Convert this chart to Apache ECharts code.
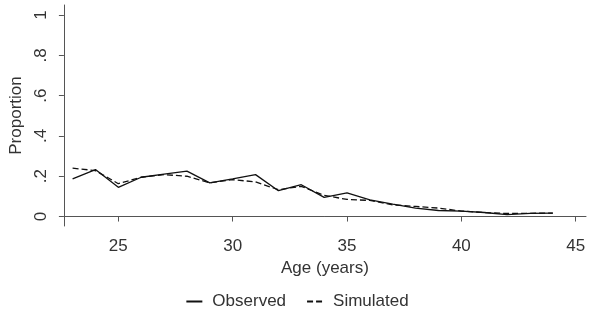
<!DOCTYPE html>
<html>
<head>
<meta charset="utf-8">
<script src="https://cdn.jsdelivr.net/npm/echarts@6/dist/echarts.min.js"></script>
<style>
  html, body { margin: 0; padding: 0; background: #fff; }
  #chart { width: 594px; height: 312px; }
</style>
</head>
<body>
<div id="chart"></div>
<script>
// ages on the x axis
const ages = [23, 24, 25, 26, 27, 28, 29, 30, 31, 32, 33, 34, 35, 36, 37, 38, 39, 40, 41, 42, 43, 44];
const observed = [0.187, 0.233, 0.145, 0.195, 0.21, 0.225, 0.167, 0.187, 0.208, 0.128, 0.158, 0.095,
  0.117, 0.083, 0.062, 0.042, 0.03, 0.027, 0.02, 0.009, 0.016, 0.017];
const simulated = [0.24, 0.228, 0.163, 0.195, 0.208, 0.2, 0.167, 0.183, 0.172, 0.133, 0.15, 0.105,
  0.085, 0.08, 0.058, 0.05, 0.042, 0.027, 0.02, 0.015, 0.016, 0.017];
const xTicks = [25, 30, 35, 40, 45];
const yTicks = [0, 0.2, 0.4, 0.6, 0.8, 1];

const font = "Liberation Sans, Arial, sans-serif";
const txt = "#333";

const chart = echarts.init(document.getElementById("chart"));

const option = {
  backgroundColor: "#fff",
  animation: false,
  grid: { left: 62, right: 8, top: 5, bottom: 86 },
  legend: {
    top: 288,
    left: "center",
    itemWidth: 16,
    itemHeight: 12,
    itemGap: 20,
    itemStyle: { opacity: 0, borderWidth: 0 },
    textStyle: { fontFamily: font, fontSize: 17, color: txt, padding: [0, 0, 0, 5] },
    data: ["Observed", "Simulated"],
  },
  xAxis: {
    type: "value",
    min: 22.62,
    max: 45.45,
    name: "Age (years)",
    nameLocation: "middle",
    nameGap: 22,
    nameTextStyle: { fontFamily: font, fontSize: 17, color: txt },
    splitLine: { show: false },
    axisLine: { lineStyle: { color: "#555", width: 1 } },
    axisTick: { customValues: xTicks, length: 5, lineStyle: { color: "#555" } },
    axisLabel: { customValues: xTicks, margin: 12, fontFamily: font, fontSize: 17, color: txt },
  },
  yAxis: {
    type: "value",
    min: -0.047,
    max: 1.05,
    name: "Proportion",
    nameLocation: "middle",
    nameGap: 28,
    nameTextStyle: { fontFamily: font, fontSize: 17, color: txt },
    splitLine: { show: false },
    axisLine: { show: true, lineStyle: { color: "#555", width: 1 } },
    axisTick: { show: true, customValues: yTicks, length: 5, lineStyle: { color: "#555" } },
    axisLabel: {
      customValues: yTicks,
      rotate: 90,
      margin: 14,
      fontFamily: font,
      fontSize: 17,
      color: txt,
      formatter: (v) => (v === 0 ? "0" : v === 1 ? "1" : String(v).replace(/^0/, "")),
    },
  },
  series: [
    {
      name: "Observed",
      type: "line",
      symbol: "none",
      data: ages.map((a, i) => [a, observed[i]]),
      lineStyle: { color: "#111", width: 1.3, type: "solid" },
      itemStyle: { color: "#111" },
    },
    {
      name: "Simulated",
      type: "line",
      symbol: "none",
      data: ages.map((a, i) => [a, simulated[i]]),
      lineStyle: { color: "#111", width: 1.3, type: [6, 3] },
      itemStyle: { color: "#111" },
    },
  ],
};

chart.setOption(option);
</script>
</body>
</html>
